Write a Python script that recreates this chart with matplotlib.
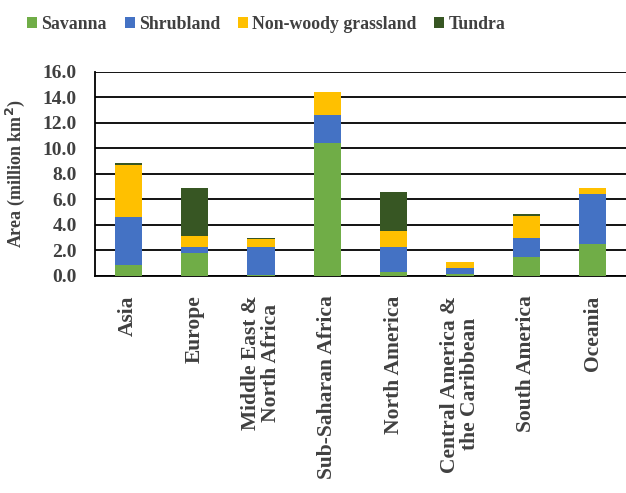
import matplotlib
matplotlib.use('Agg')
import matplotlib.pyplot as plt
import numpy as np

regions = ['Asia', 'Europe', 'Middle East &\nNorth Africa', 'Sub-Saharan Africa',
           'North America', 'Central America &\nthe Caribbean', 'South America', 'Oceania']
savanna = [0.85, 1.8, 0.05, 10.4, 0.3, 0.15, 1.5, 2.5]
shrubland = [3.75, 0.5, 2.25, 2.2, 2.0, 0.5, 1.5, 3.9]
grassland = [4.1, 0.8, 0.6, 1.8, 1.2, 0.45, 1.7, 0.5]
tundra = [0.2, 3.8, 0.1, 0.0, 3.1, 0.0, 0.15, 0.0]

series = [('Savanna', savanna, '#70AD47'),
          ('Shrubland', shrubland, '#4472C4'),
          ('Non-woody grassland', grassland, '#FFC000'),
          ('Tundra', tundra, '#375623')]

plt.rcParams['font.family'] = ['Liberation Serif', 'DejaVu Serif']
txt = '#404040'

fig = plt.figure(figsize=(6.26, 4.93), dpi=100)
ax = fig.add_axes([0.1518, 0.4402, 0.8482, 0.4138])

x = np.arange(len(regions))
bottom = np.zeros(len(regions))
handles = []
for name, vals, col in series:
    b = ax.bar(x, vals, width=0.41, bottom=bottom, color=col, label=name, zorder=3)
    handles.append(b)
    bottom += np.array(vals)

ax.set_xlim(-0.5, 7.5)
ax.set_ylim(0, 16)
ax.set_yticks(np.arange(0, 16.1, 2))
ax.set_yticklabels(['%.1f' % v for v in np.arange(0, 16.1, 2)])
ax.yaxis.grid(True, color='black', linewidth=1.3, zorder=0)
ax.set_axisbelow(True)
for s in ['top', 'right']:
    ax.spines[s].set_visible(False)
ax.spines['left'].set_linewidth(1.3)
ax.spines['bottom'].set_linewidth(1.3)
ax.tick_params(axis='y', length=0, labelsize=14, colors=txt, pad=13)
ax.tick_params(axis='x', length=0, colors=txt, pad=14)
for lab in ax.get_yticklabels():
    lab.set_fontweight('bold')

ax.set_xticks(x)
ax.set_xticklabels(regions, rotation=90, fontweight='bold', color=txt,
                   fontsize=15.5, ha='center', va='top', multialignment='center',
                   linespacing=0.95)
ax.set_ylabel('Area (million km$^\\mathbf{2}$)', fontweight='bold', fontsize=13,
              color=txt)
ax.yaxis.set_label_coords(-0.128, 0.5)

fig.legend(handles=handles, loc='upper left', bbox_to_anchor=(0.018, 1.0), ncol=4,
           frameon=False, prop={'weight': 'bold', 'size': 12.8}, handlelength=0.55,
           handleheight=0.55, handletextpad=0.25, columnspacing=1.0, labelcolor=txt)

fig.savefig('out.png', dpi=100)
